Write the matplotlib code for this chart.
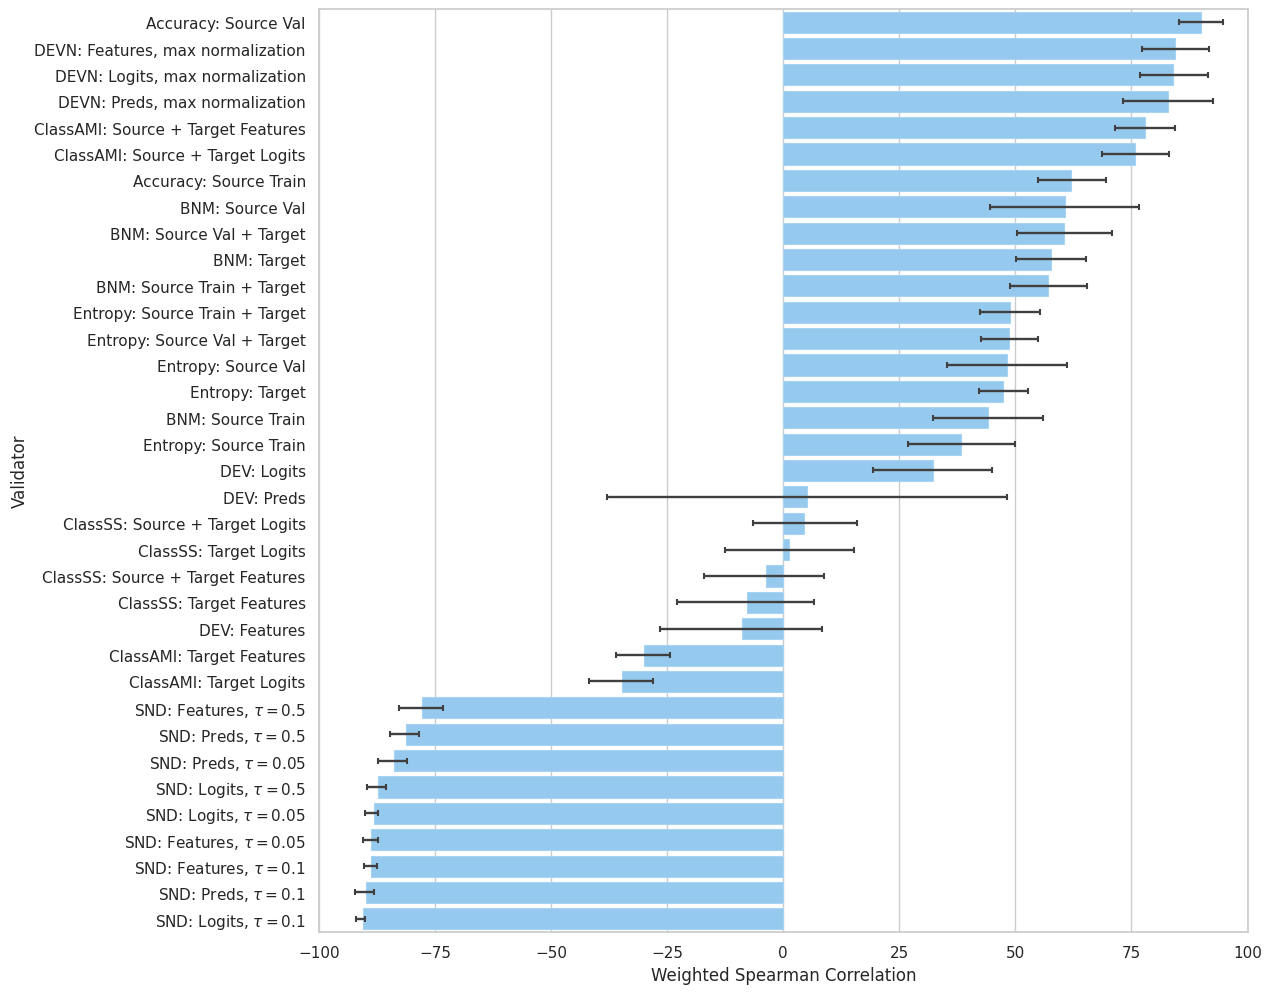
import matplotlib
matplotlib.use("Agg")
import matplotlib.pyplot as plt
import seaborn as sns
import numpy as np

validators = [
    "Accuracy: Source Val",
    "DEVN: Features, max normalization",
    "DEVN: Logits, max normalization",
    "DEVN: Preds, max normalization",
    "ClassAMI: Source + Target Features",
    "ClassAMI: Source + Target Logits",
    "Accuracy: Source Train",
    "BNM: Source Val",
    "BNM: Source Val + Target",
    "BNM: Target",
    "BNM: Source Train + Target",
    "Entropy: Source Train + Target",
    "Entropy: Source Val + Target",
    "Entropy: Source Val",
    "Entropy: Target",
    "BNM: Source Train",
    "Entropy: Source Train",
    "DEV: Logits",
    "DEV: Preds",
    "ClassSS: Source + Target Logits",
    "ClassSS: Target Logits",
    "ClassSS: Source + Target Features",
    "ClassSS: Target Features",
    "DEV: Features",
    "ClassAMI: Target Features",
    "ClassAMI: Target Logits",
    r"SND: Features, $\tau=0.5$",
    r"SND: Preds, $\tau=0.5$",
    r"SND: Preds, $\tau=0.05$",
    r"SND: Logits, $\tau=0.5$",
    r"SND: Logits, $\tau=0.05$",
    r"SND: Features, $\tau=0.05$",
    r"SND: Features, $\tau=0.1$",
    r"SND: Preds, $\tau=0.1$",
    r"SND: Logits, $\tau=0.1$",
]

corr = [90.0, 84.4, 84.0, 82.9, 77.9, 75.8, 62.0, 60.7, 60.5, 57.7,
        57.0, 48.9, 48.6, 48.2, 47.3, 44.1, 38.3, 32.3, 5.1, 4.5,
        1.2, -3.8, -7.8, -8.8, -30.1, -34.7, -77.8, -81.3, -83.9, -87.2,
        -88.2, -88.7, -88.7, -89.9, -90.6]

ci_low = [85.3, 77.3, 76.9, 73.2, 71.5, 68.7, 54.9, 44.5, 50.4, 50.1,
          48.9, 42.4, 42.5, 35.3, 42.2, 32.3, 26.9, 19.4, -38.0, -6.5,
          -12.5, -17.1, -22.9, -26.5, -36.0, -41.8, -82.7, -84.7, -87.3, -89.7,
          -90.2, -90.6, -90.3, -92.3, -92.1]

ci_high = [94.8, 91.6, 91.5, 92.5, 84.3, 83.0, 69.5, 76.7, 70.9, 65.2,
           65.4, 55.2, 54.8, 61.1, 52.7, 56.0, 50.0, 45.0, 48.1, 15.8,
           15.3, 8.8, 6.7, 8.3, -24.5, -28.0, -73.2, -78.4, -81.0, -85.5,
           -87.2, -87.2, -87.6, -88.2, -90.0]

sns.set_theme(style="whitegrid")

fig = plt.figure(figsize=(12.73, 9.95), dpi=100)
ax = fig.add_axes([0.2506, 0.0623, 0.7294, 0.9277])

y = np.arange(len(validators))
vals = np.array(corr)
xerr = np.array([vals - np.array(ci_low), np.array(ci_high) - vals])

ax.barh(y, vals, height=0.8, color="#95caee", edgecolor="#a6d4f2", linewidth=0.8, zorder=2)
ax.errorbar(vals, y, xerr=xerr, fmt="none", ecolor="#3f3f3f", elinewidth=1.7,
            capsize=2.2, capthick=1.5, zorder=3)

ax.set_yticks(y)
ax.set_yticklabels(validators)
ax.set_ylim(len(validators) - 0.5, -0.5)
ax.set_xlim(-100, 100)
ax.set_xticks([-100, -75, -50, -25, 0, 25, 50, 75, 100])
ax.grid(axis="y", visible=False)
ax.set_axisbelow(True)
ax.set_xlabel("Weighted Spearman Correlation")
ax.set_ylabel("Validator")

fig.savefig("out.png", dpi=100)
